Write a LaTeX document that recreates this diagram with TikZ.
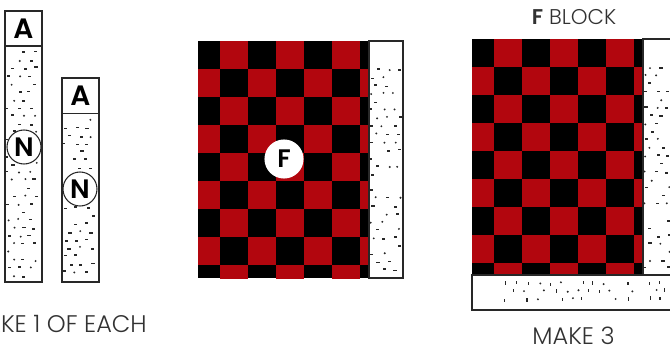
\documentclass[tikz,border=0pt]{standalone}
\usepackage{fontspec}
\setmainfont{Poppins}[UprightFont=* Light,BoldFont=* SemiBold]
\usepackage{tikz}
\usetikzlibrary{calc}
\definecolor{RedCheck}{RGB}{178,6,14}
\definecolor{InkGray}{RGB}{40,40,40}
\definecolor{TextGray}{RGB}{50,50,50}

% checkerboard: clip box x1,y1,x2,y2 (grid starts 6px left of x1)
\newcommand{\checkboard}[4]{%
  \begin{scope}
    \clip (#1,#2) rectangle (#3,#4);
    \fill[black] (#1,#2) rectangle (#3,#4);
    \foreach \i in {0,...,6}
      \foreach \j in {0,...,8} {
        \pgfmathtruncatemacro{\odd}{mod(\i+\j,2)}
        \ifnum\odd=1
          \fill[RedCheck] ({#1-6+28*\i},{#2+28*\j}) rectangle +(28,28);
        \fi
      }
  \end{scope}
}
% speckled fabric: region x1,y1,x2,y2, half size of a tick in x and y
\newcommand{\speckle}[6]{%
  \pgfmathtruncatemacro{\nrow}{((#4)-(#2))/8}
  \pgfmathtruncatemacro{\ncol}{((#3)-(#1))/11}
  \foreach \r in {1,...,\nrow}
    \foreach \c in {1,...,\ncol} {
      \pgfmathsetmacro{\px}{#1+11*\c-8+mod(\r,2)*5+1.8*rand}
      \pgfmathsetmacro{\py}{#2+8*\r-4+1.2*rand}
      \pgfmathrandominteger{\kind}{0}{3}
      \ifcase\kind
        \fill[InkGray] (\px,\py) circle (0.8pt);
      \or
        \fill[InkGray] (\px-#5,\py-#6) rectangle (\px+#5,\py+#6);
      \or
        \fill[InkGray] (\px-#5,\py-#6) rectangle (\px+#5,\py+#6);
      \else
      \fi
    }
}

\begin{document}
\begin{tikzpicture}[x=0.75pt,y=-0.75pt,
  stripbox/.style={draw=InkGray,line width=0.9pt,fill=white},
  letterbox/.style={draw=InkGray,line width=0.9pt,fill=white,inner sep=0pt,
    minimum width=27.75pt,minimum height=26.25pt,
    font=\fontsize{21}{21}\selectfont\bfseries},
  ring/.style={circle,draw=InkGray,line width=0.8pt,fill=white,inner sep=0pt,
    minimum size=25.5pt,font=\fontsize{20}{20}\selectfont\bfseries},
  caps/.style={text=TextGray,inner sep=0pt,font=\fontsize{18}{18}\selectfont}]
  \useasboundingbox (0,0) rectangle (670,349);
  \pgfmathsetseed{11}

  % A + N strips
  \draw[stripbox] (5,11) rectangle (42,282);
  \draw[stripbox] (62,78) rectangle (99,282);
  \speckle{5}{48}{42}{282}{1.6}{0.7}
  \speckle{62}{116}{99}{282}{1.6}{0.7}
  \node[letterbox] (boxA1) at (23.5,28.5) {A};
  \node[letterbox] (boxA2) at (80.5,96) {A};
  \node[ring] (ringN1) at (24,147) {N};
  \node[ring] (ringN2) at (80,189) {N};
  \node[caps,anchor=base east] (lblEach) at (147,332) {MAKE 1 OF EACH};

  % F unit
  \checkboard{198}{41}{369}{278}
  \draw[stripbox] (369,41) rectangle (403,278);
  \speckle{369}{66}{403}{276}{1.6}{0.7}
  \node[ring,minimum size=28.5pt,draw=white,font=\fontsize{19}{19}\selectfont\bfseries] (ringF) at (284,159) {F};

  % F block
  \node[caps,anchor=base,font=\fontsize{16}{16}\selectfont] (lblBlock) at (574,25) {\textbf{F} BLOCK};
  \checkboard{472}{39}{643}{275}
  \draw[stripbox] (643,39) rectangle (690,275);
  \speckle{643}{64}{690}{273}{1.6}{0.7}
  \draw[stripbox] (472,275) rectangle (690,310);
  \draw[InkGray,line width=1.6pt] (472,275) -- (690,275);
  \speckle{498}{279}{690}{307}{0.6}{1.6}
  \node[caps,anchor=base] (lblMake) at (573.5,344) {MAKE 3};
\end{tikzpicture}
\end{document}
